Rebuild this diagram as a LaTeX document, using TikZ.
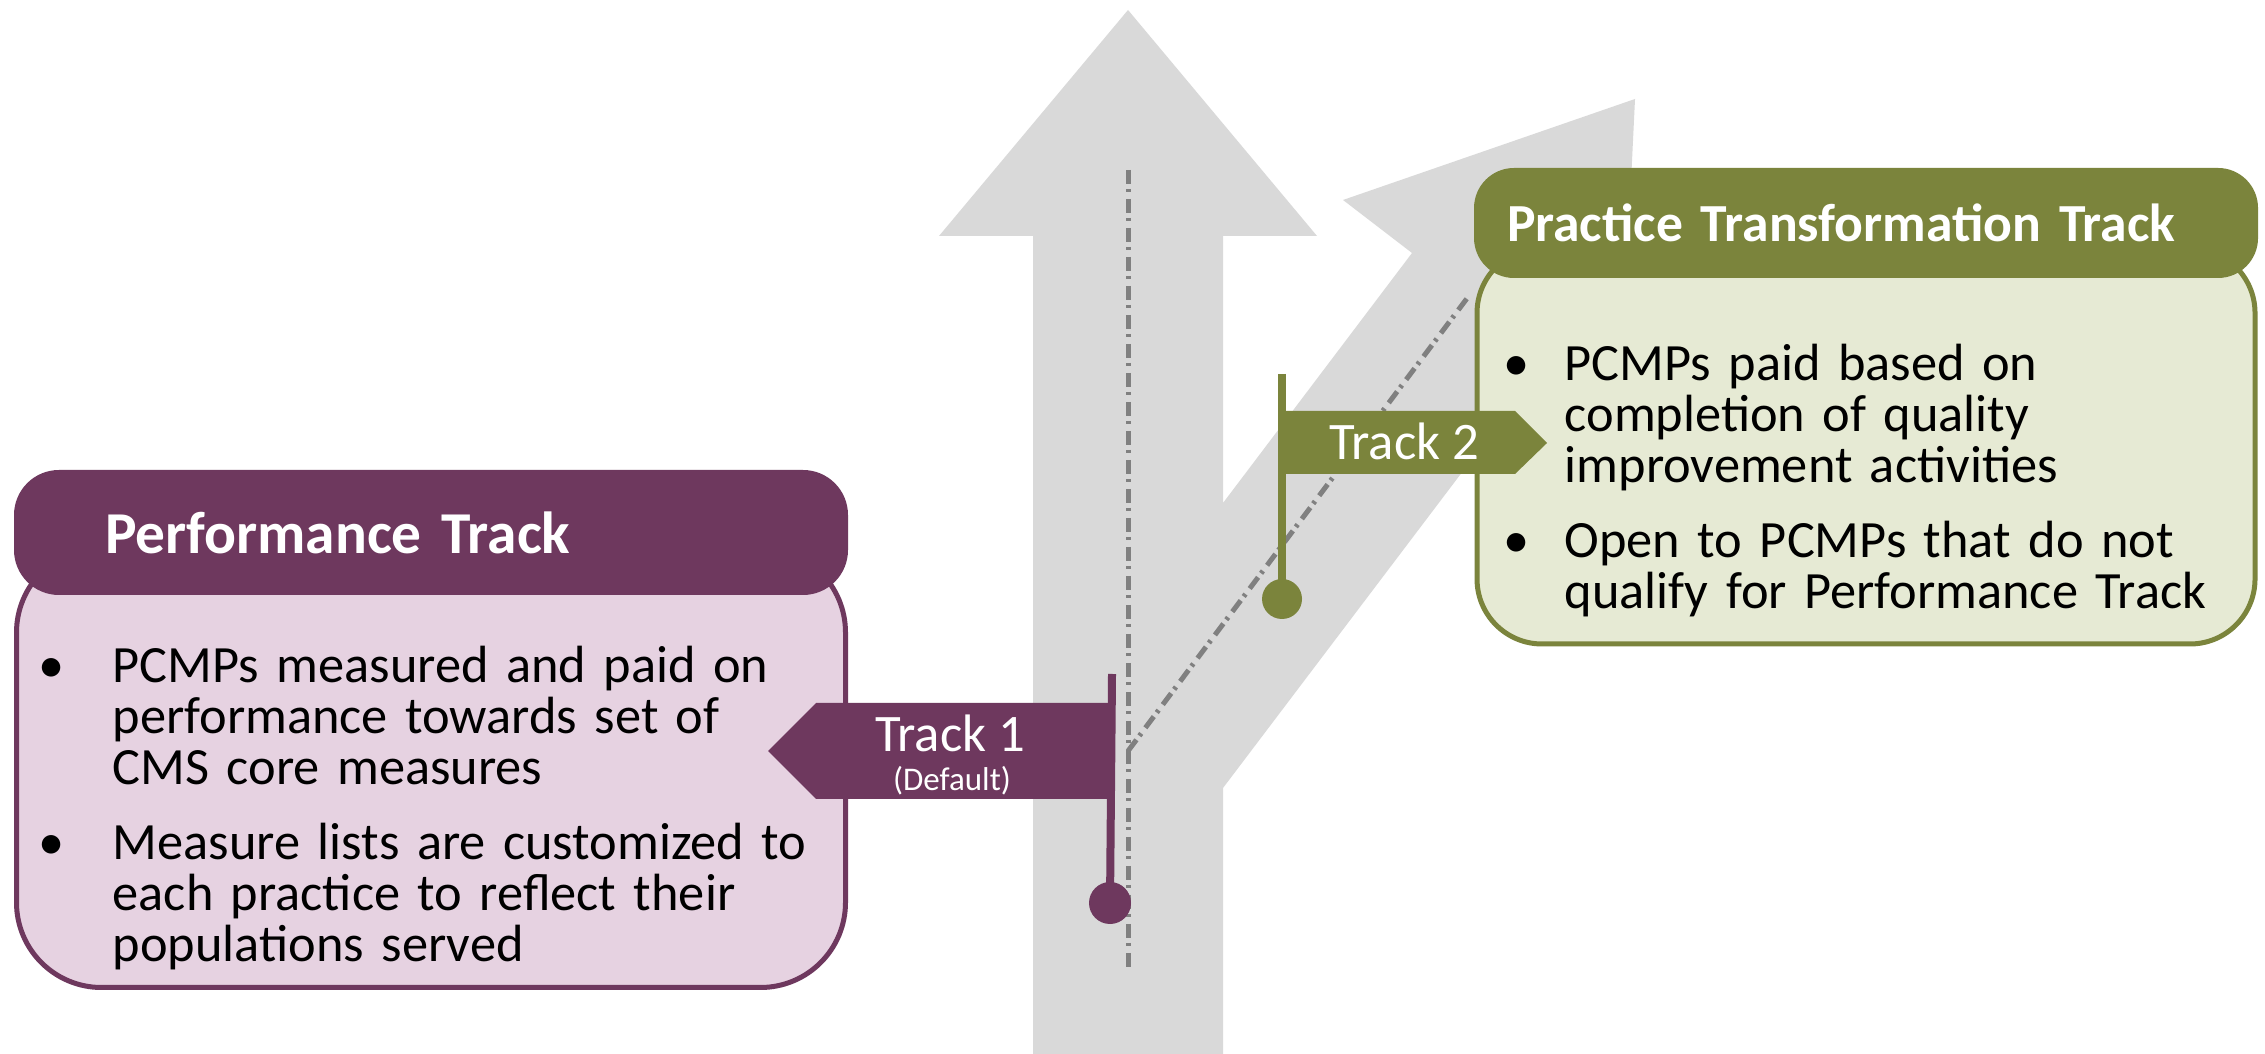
\documentclass[tikz,border=0pt]{standalone}
\usepackage{fontspec}
\setmainfont{Carlito}
\usetikzlibrary{positioning,calc}
\definecolor{perfPurple}{RGB}{110,56,94}
\definecolor{perfPink}{RGB}{230,210,225}
\definecolor{ptGreen}{RGB}{123,132,60}
\definecolor{ptLight}{RGB}{230,234,212}
\definecolor{roadGray}{RGB}{217,217,217}
\definecolor{laneGray}{RGB}{128,128,128}
\tikzset{
  road/.style={fill=roadGray,draw=none},
  lane/.style={draw=laneGray,line width=0.5mm,
    dash pattern=on 1.4mm off 0.5mm on 0.3mm off 0.7mm},
  body/.style={rectangle,line width=0.5mm,inner sep=0pt},
  hdr/.style={rectangle,inner ysep=0pt,align=left,text=white,
    font=\fontsize{15.25}{16}\selectfont\bfseries},
  blist/.style={inner sep=0pt,align=left,anchor=base west,
    font=\fontsize{14.9}{14.5}\selectfont,
    execute at begin node={\lineskiplimit=-10pt\relax}},
  flagtxt/.style={inner sep=0pt,anchor=base,text=white,
    font=\fontsize{15}{15}\selectfont},
  flagsub/.style={flagtxt,font=\fontsize{9.4}{9}\selectfont},
  pole/.style={line width=0.8mm},
}
\newcommand{\bitem}[2]{\hangindent=#1\hangafter=1\noindent
  \makebox[#1][l]{\textbullet}#2\par}

\begin{document}
\begin{tikzpicture}[x=0.1mm,y=-0.1mm]
\path[use as bounding box,fill=white] (0,0) rectangle (2265,1054);

% --- road: straight arrow with branch to the right ---
\fill[road] (1033,1054) -- (1033,236) -- (939,236) -- (1128,10)
  -- (1317,236) -- (1223,236) -- (1223,503) -- (1412,253)
  -- (1343,200) -- (1635,99) -- (1620,408) -- (1550,356)
  -- (1223,788) -- (1223,1054) -- cycle;

% --- lane markings ---
\coordinate (laneTop) at (1128,170);
\coordinate (laneBot) at (1128,971);
\coordinate (fork) at (1128,751);
\coordinate (branchEnd) at (1468,297);
\draw[lane] (laneTop) -- (laneBot);
\draw[lane] (fork) -- (branchEnd);

% --- Performance Track box ---
\node[body,draw=perfPurple,fill=perfPink,minimum width=82.9mm,
  minimum height=44mm,rounded corners=8.5mm] (perfBody) at (431,767.5) {};
\node[hdr,fill=perfPurple,minimum width=83.4mm,minimum height=12.5mm,
  text width=65.2mm,inner xsep=9.1mm,rounded corners=4.5mm,
  font=\fontsize{16.9}{17}\selectfont\bfseries] (perfHd) at (431,532.5)
  {Performance Track};
\node[blist,text width=80mm] (perfList) at (38,683) {%
  \bitem{7.4mm}{PCMPs measured and paid on\newline
    performance towards set of\newline CMS core measures}%
  \vspace{2.4mm}%
  \bitem{7.4mm}{Measure lists are customized to\newline
    each practice to reflect their\newline populations served}};

% --- Practice Transformation Track box ---
\node[body,draw=ptGreen,fill=ptLight,minimum width=77.8mm,
  minimum height=39.6mm,rounded corners=6.5mm] (ptBody) at (1866,446) {};
\node[hdr,fill=ptGreen,minimum width=78.4mm,minimum height=11mm,
  text width=71.8mm,inner xsep=3.3mm,rounded corners=4mm] (ptHd)
  at (1866,223) {Practice Transformation Track};
\node[blist,text width=75mm] (ptList) at (1503,381) {%
  \bitem{6.1mm}{PCMPs paid based on\newline
    completion of quality\newline improvement activities}%
  \vspace{2.4mm}%
  \bitem{6.1mm}{Open to PCMPs that do not\newline
    qualify for Performance Track}};

% --- Track 1 flag ---
\coordinate (t1Top) at (1112,674);
\coordinate (t1Foot) at (1110,903);
\draw[pole,perfPurple] (t1Top) -- (t1Foot);
\fill[perfPurple] (t1Foot) circle (2.1mm);
\fill[perfPurple] (1109,703) -- (816,703) -- (768,751) -- (816,799)
  -- (1109,799) -- cycle;
\node[flagtxt] (t1Txt) at (950,752) {Track 1};
\node[flagsub] (t1Sub) at (952,791) {(Default)};

% --- Track 2 flag ---
\coordinate (t2Top) at (1282,374);
\coordinate (t2Foot) at (1282,599);
\draw[pole,ptGreen] (t2Top) -- (t2Foot);
\fill[ptGreen] (t2Foot) circle (2mm);
\fill[ptGreen] (1282,411) -- (1515,411) -- (1547,443) -- (1515,474)
  -- (1282,474) -- cycle;
\node[flagtxt] (t2Txt) at (1404,460) {Track 2};

\end{tikzpicture}
\end{document}
